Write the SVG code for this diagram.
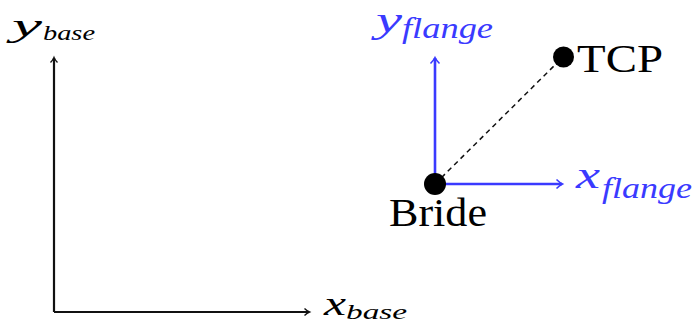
<svg xmlns="http://www.w3.org/2000/svg" width="696" height="325" viewBox="0 0 696 325">
<style>
text{font-family:"Liberation Serif","Times New Roman","DejaVu Serif",serif}
.lbl{fill:#000}
.math{font-style:italic}
.blue{fill:#3a3aff}
.ax{fill:none;stroke:#111;stroke-width:2.2}
.bax{fill:none;stroke:#3a3aff;stroke-width:2.6}
</style>
<defs>
<marker id="ak" markerWidth="10" markerHeight="10" refX="6" refY="5" orient="auto" markerUnits="userSpaceOnUse">
<path d="M1.5,1.5 Q4,4 6.5,5 Q4,6 1.5,8.5" fill="none" stroke="#111" stroke-width="1.4"/>
</marker>
<marker id="ab" markerWidth="12" markerHeight="12" refX="7" refY="6" orient="auto" markerUnits="userSpaceOnUse">
<path d="M1.5,1.5 Q4.5,4.5 7.5,6 Q4.5,7.5 1.5,10.5" fill="none" stroke="#3a3aff" stroke-width="1.6"/>
</marker>
</defs>
<rect width="696" height="325" fill="#fff"/>
<g id="connectors">
<path class="ax" d="M54,312 V58" marker-end="url(#ak)"/>
<path class="ax" d="M54,312 H309" marker-end="url(#ak)"/>
<path class="bax" d="M435,184 V58" marker-end="url(#ab)"/>
<path class="bax" d="M435,184 H562" marker-end="url(#ab)"/>
<path d="M435,184 L563,57" fill="none" stroke="#111" stroke-width="1.5" stroke-dasharray="5,4"/>
</g>
<g id="base-frame">
<text class="math" x="12" y="36" font-size="32" textLength="30" lengthAdjust="spacingAndGlyphs">y</text>
<text class="math" x="43" y="40" font-size="22" textLength="52" lengthAdjust="spacingAndGlyphs">base</text>
<text class="math" x="324" y="315" font-size="34" textLength="22" lengthAdjust="spacingAndGlyphs">x</text>
<text class="math" x="346" y="319" font-size="21" textLength="61" lengthAdjust="spacingAndGlyphs">base</text>
</g>
<g id="flange-frame">
<text class="math blue" x="376" y="32" font-size="36" textLength="26" lengthAdjust="spacingAndGlyphs">y</text>
<text class="math blue" x="402" y="38" font-size="30" textLength="91" lengthAdjust="spacingAndGlyphs">flange</text>
<text class="math blue" x="576" y="188" font-size="38" textLength="24" lengthAdjust="spacingAndGlyphs">x</text>
<text class="math blue" x="602" y="198" font-size="30" textLength="90" lengthAdjust="spacingAndGlyphs">flange</text>
</g>
<g id="bride">
<circle cx="435" cy="184" r="11" fill="#000"/>
<text class="lbl" x="389" y="226" font-size="40" textLength="98" lengthAdjust="spacingAndGlyphs">Bride</text>
</g>
<g id="tcp">
<circle cx="563.5" cy="57" r="10.5" fill="#000"/>
<text class="lbl" x="577" y="72" font-size="40" textLength="86" lengthAdjust="spacingAndGlyphs">TCP</text>
</g>
</svg>
